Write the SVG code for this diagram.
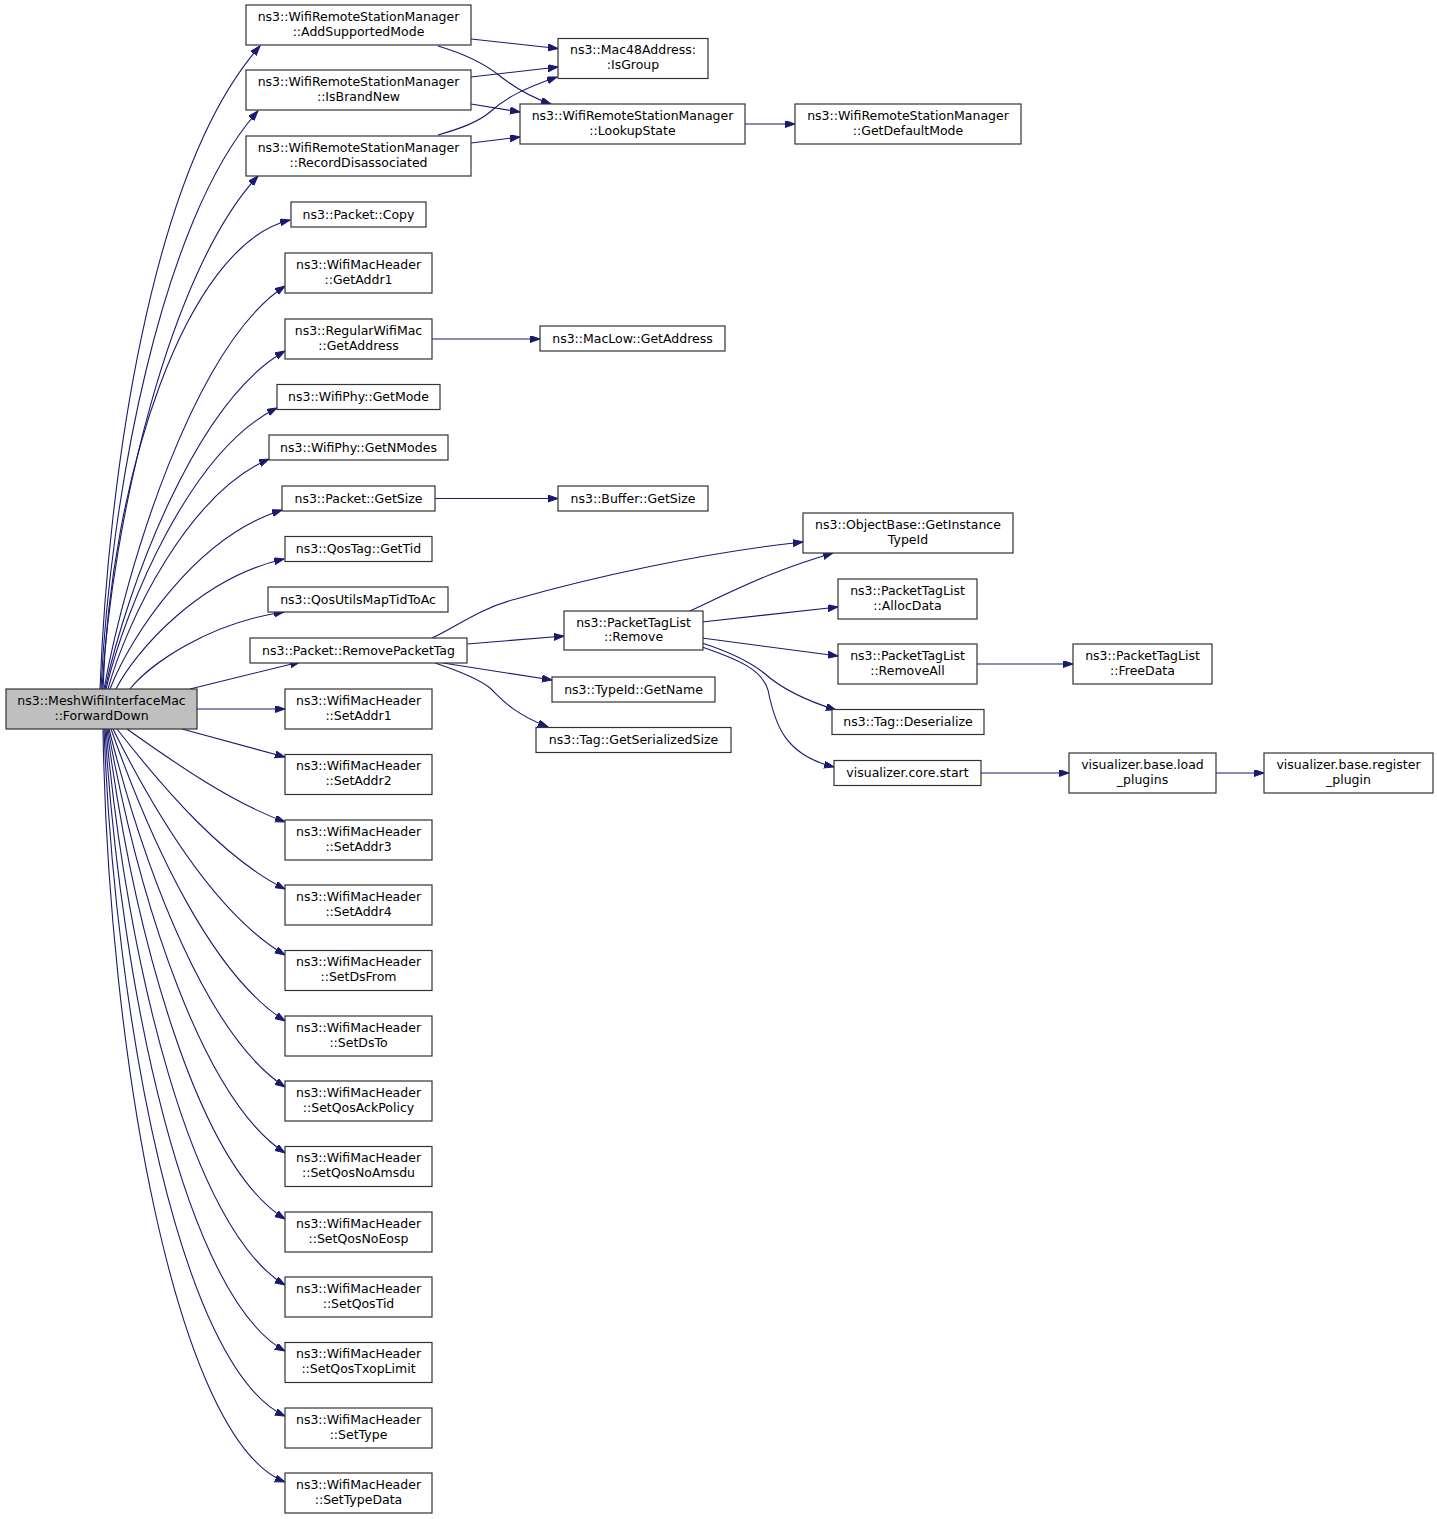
<svg xmlns="http://www.w3.org/2000/svg" width="1437" height="1519" viewBox="0 0 1437 1519">
<style>
.n rect{fill:#fff;stroke:#333;stroke-width:1.2}
.src rect{fill:#bfbfbf}
text{font-family:"DejaVu Sans","Liberation Sans",sans-serif;font-size:12.5px;fill:#000;text-anchor:middle}
.e path{fill:none;stroke:#191970;stroke-width:1.1;marker-end:url(#arr)}
</style>
<defs>
<marker id="arr" markerUnits="userSpaceOnUse" markerWidth="12" markerHeight="9" refX="10" refY="3.5" orient="auto">
<path d="M0,0 L10,3.5 L0,7 z" fill="#191970" stroke="#191970" stroke-width="1"/>
</marker>
</defs>
<rect width="1437" height="1519" fill="#fff"/>
<g class="e" id="edges">
<path d="M100,689 C108,480 150,170 260,46"/>
<path d="M101,689 C110,500 160,220 258,111"/>
<path d="M102,689 C112,520 170,270 258,176"/>
<path d="M103,689 C110,480 185,245 290,220"/>
<path d="M104,689 C126,568 194,346 285,286"/>
<path d="M105,689 C127,588 195,402 285,351"/>
<path d="M106,689 C126,605 191,450 277,408"/>
<path d="M108,689 C127,620 188,494 269,459"/>
<path d="M110,689 C131,635 196,537 282,510"/>
<path d="M116,689 C136,650 200,578 284,559"/>
<path d="M130,689 C148,666 207,623 284,612"/>
<path d="M190,689 L300,662"/>
<path d="M197,709 L285,709"/>
<path d="M182,729 L285,757"/>
<path d="M127,729 C179,766 233,803 285,822"/>
<path d="M117,729 C167,793 225,859 285,889"/>
<path d="M113,729 C159,821 219,916 285,955"/>
<path d="M111,729 C153,848 213,975 285,1021"/>
<path d="M109,729 C146,876 208,1036 285,1087"/>
<path d="M108,729 C140,905 203,1099 285,1153"/>
<path d="M107,729 C134,934 197,1164 285,1219"/>
<path d="M106,729 C127,963 192,1230 285,1285"/>
<path d="M105,729 C121,993 187,1298 285,1351"/>
<path d="M104,729 C115,1022 181,1368 285,1416"/>
<path d="M103,729 C108,1053 176,1440 285,1482"/>
<path d="M471,39 L558,48.5"/>
<path d="M438,46 C465,54 485,64 500,76 C515,88 530,97 551,104"/>
<path d="M471,77 L558,67"/>
<path d="M471,104 L520,112"/>
<path d="M438,135 C462,128 478,122 490,112 C505,98 525,88 557,77"/>
<path d="M471,143 L520,137"/>
<path d="M745,124 L795,124"/>
<path d="M432,339 L540,339"/>
<path d="M435,498.5 L558,498.5"/>
<path d="M432,638 C456,627 480,608 516,599 C590,578 700,553 803,542"/>
<path d="M467,644 L564,636"/>
<path d="M443,663 L552,680"/>
<path d="M435,663 C465,673 480,680 490,688 C500,697 510,712 548,727"/>
<path d="M690,611 C720,597 750,582 777,572 C795,565 813,559 833,553"/>
<path d="M702,622 L838,607"/>
<path d="M702,638 L838,656"/>
<path d="M702,643 C730,652 750,662 764,673 C775,683 795,697 836,710"/>
<path d="M702,647 C740,660 762,670 768,690 C775,725 785,755 834,767"/>
<path d="M977,664 L1073,664"/>
<path d="M981,773 L1069,773"/>
<path d="M1216,773 L1264,773"/>
</g>
<g class="n src" id="n_src"><rect x="6" y="689" width="191" height="40"/><text x="101.5" y="704.5">ns3::MeshWifiInterfaceMac</text><text x="101.5" y="719.5">::ForwardDown</text></g>
<g class="n" id="n_addsupported"><rect x="246" y="5" width="225" height="40"/><text x="358.5" y="20.5">ns3::WifiRemoteStationManager</text><text x="358.5" y="35.5">::AddSupportedMode</text></g>
<g class="n" id="n_isbrandnew"><rect x="246" y="70" width="225" height="40"/><text x="358.5" y="85.5">ns3::WifiRemoteStationManager</text><text x="358.5" y="100.5">::IsBrandNew</text></g>
<g class="n" id="n_recorddisassoc"><rect x="246" y="136" width="225" height="40"/><text x="358.5" y="151.5">ns3::WifiRemoteStationManager</text><text x="358.5" y="166.5">::RecordDisassociated</text></g>
<g class="n" id="n_copy"><rect x="291" y="202" width="135" height="25"/><text x="358.5" y="218.5">ns3::Packet::Copy</text></g>
<g class="n" id="n_getaddr1"><rect x="285" y="253" width="147" height="40"/><text x="358.5" y="268.5">ns3::WifiMacHeader</text><text x="358.5" y="283.5">::GetAddr1</text></g>
<g class="n" id="n_getaddress"><rect x="285" y="319" width="147" height="40"/><text x="358.5" y="334.5">ns3::RegularWifiMac</text><text x="358.5" y="349.5">::GetAddress</text></g>
<g class="n" id="n_getmode"><rect x="277" y="384.5" width="163" height="25"/><text x="358.5" y="401">ns3::WifiPhy::GetMode</text></g>
<g class="n" id="n_getnmodes"><rect x="269" y="435" width="179" height="25"/><text x="358.5" y="451.5">ns3::WifiPhy::GetNModes</text></g>
<g class="n" id="n_getsize"><rect x="282" y="486" width="153" height="25"/><text x="358.5" y="502.5">ns3::Packet::GetSize</text></g>
<g class="n" id="n_gettid"><rect x="285" y="536.5" width="147" height="25"/><text x="358.5" y="553">ns3::QosTag::GetTid</text></g>
<g class="n" id="n_maptid"><rect x="268" y="587" width="180" height="25"/><text x="358" y="603.5">ns3::QosUtilsMapTidToAc</text></g>
<g class="n" id="n_removepackettag"><rect x="250" y="638" width="217" height="25"/><text x="358.5" y="654.5">ns3::Packet::RemovePacketTag</text></g>
<g class="n" id="n_setaddr1"><rect x="285" y="689" width="147" height="40"/><text x="358.5" y="704.5">ns3::WifiMacHeader</text><text x="358.5" y="719.5">::SetAddr1</text></g>
<g class="n" id="n_setaddr2"><rect x="285" y="754.5" width="147" height="40"/><text x="358.5" y="770">ns3::WifiMacHeader</text><text x="358.5" y="785">::SetAddr2</text></g>
<g class="n" id="n_setaddr3"><rect x="285" y="820" width="147" height="40"/><text x="358.5" y="835.5">ns3::WifiMacHeader</text><text x="358.5" y="850.5">::SetAddr3</text></g>
<g class="n" id="n_setaddr4"><rect x="285" y="885" width="147" height="40"/><text x="358.5" y="900.5">ns3::WifiMacHeader</text><text x="358.5" y="915.5">::SetAddr4</text></g>
<g class="n" id="n_setdsfrom"><rect x="285" y="950.5" width="147" height="40"/><text x="358.5" y="966">ns3::WifiMacHeader</text><text x="358.5" y="981">::SetDsFrom</text></g>
<g class="n" id="n_setdsto"><rect x="285" y="1016" width="147" height="40"/><text x="358.5" y="1031.5">ns3::WifiMacHeader</text><text x="358.5" y="1046.5">::SetDsTo</text></g>
<g class="n" id="n_setqosackpolicy"><rect x="285" y="1081" width="147" height="40"/><text x="358.5" y="1096.5">ns3::WifiMacHeader</text><text x="358.5" y="1111.5">::SetQosAckPolicy</text></g>
<g class="n" id="n_setqosnoamsdu"><rect x="285" y="1146.5" width="147" height="40"/><text x="358.5" y="1162">ns3::WifiMacHeader</text><text x="358.5" y="1177">::SetQosNoAmsdu</text></g>
<g class="n" id="n_setqosnoeosp"><rect x="285" y="1212" width="147" height="40"/><text x="358.5" y="1227.5">ns3::WifiMacHeader</text><text x="358.5" y="1242.5">::SetQosNoEosp</text></g>
<g class="n" id="n_setqostid"><rect x="285" y="1277" width="147" height="40"/><text x="358.5" y="1292.5">ns3::WifiMacHeader</text><text x="358.5" y="1307.5">::SetQosTid</text></g>
<g class="n" id="n_setqostxoplimit"><rect x="285" y="1342.5" width="147" height="40"/><text x="358.5" y="1358">ns3::WifiMacHeader</text><text x="358.5" y="1373">::SetQosTxopLimit</text></g>
<g class="n" id="n_settype"><rect x="285" y="1408" width="147" height="40"/><text x="358.5" y="1423.5">ns3::WifiMacHeader</text><text x="358.5" y="1438.5">::SetType</text></g>
<g class="n" id="n_settypedata"><rect x="285" y="1473" width="147" height="40"/><text x="358.5" y="1488.5">ns3::WifiMacHeader</text><text x="358.5" y="1503.5">::SetTypeData</text></g>
<g class="n" id="n_isgroup"><rect x="558" y="38.5" width="150" height="40"/><text x="633" y="54">ns3::Mac48Address:</text><text x="633" y="69">:IsGroup</text></g>
<g class="n" id="n_lookupstate"><rect x="520" y="104" width="225" height="40"/><text x="632.5" y="119.5">ns3::WifiRemoteStationManager</text><text x="632.5" y="134.5">::LookupState</text></g>
<g class="n" id="n_maclowgetaddress"><rect x="540" y="326" width="185" height="25"/><text x="632.5" y="342.5">ns3::MacLow::GetAddress</text></g>
<g class="n" id="n_buffergetsize"><rect x="558" y="486" width="150" height="25"/><text x="633" y="502.5">ns3::Buffer::GetSize</text></g>
<g class="n" id="n_ptlremove"><rect x="564" y="611" width="139" height="39"/><text x="633.5" y="626.5">ns3::PacketTagList</text><text x="633.5" y="641">::Remove</text></g>
<g class="n" id="n_typeidgetname"><rect x="552" y="677" width="163" height="25"/><text x="633.5" y="693.5">ns3::TypeId::GetName</text></g>
<g class="n" id="n_getserializedsize"><rect x="536" y="727.5" width="195" height="25"/><text x="633.5" y="744">ns3::Tag::GetSerializedSize</text></g>
<g class="n" id="n_getdefaultmode"><rect x="795" y="104" width="226" height="40"/><text x="908" y="119.5">ns3::WifiRemoteStationManager</text><text x="908" y="134.5">::GetDefaultMode</text></g>
<g class="n" id="n_getinstancetypeid"><rect x="803" y="513" width="210" height="40"/><text x="908" y="528.5">ns3::ObjectBase::GetInstance</text><text x="908" y="543.5">TypeId</text></g>
<g class="n" id="n_allocdata"><rect x="838" y="579" width="139" height="40"/><text x="907.5" y="594.5">ns3::PacketTagList</text><text x="907.5" y="609.5">::AllocData</text></g>
<g class="n" id="n_removeall"><rect x="838" y="644" width="139" height="40"/><text x="907.5" y="659.5">ns3::PacketTagList</text><text x="907.5" y="674.5">::RemoveAll</text></g>
<g class="n" id="n_deserialize"><rect x="832" y="709.5" width="152" height="25"/><text x="908" y="726">ns3::Tag::Deserialize</text></g>
<g class="n" id="n_corestart"><rect x="834" y="760.5" width="147" height="25"/><text x="907.5" y="777">visualizer.core.start</text></g>
<g class="n" id="n_freedata"><rect x="1073" y="644" width="139" height="40"/><text x="1142.5" y="659.5">ns3::PacketTagList</text><text x="1142.5" y="674.5">::FreeData</text></g>
<g class="n" id="n_loadplugins"><rect x="1069" y="753" width="147" height="40"/><text x="1142.5" y="768.5">visualizer.base.load</text><text x="1142.5" y="783.5">_plugins</text></g>
<g class="n" id="n_registerplugin"><rect x="1264" y="753" width="169" height="40"/><text x="1348.5" y="768.5">visualizer.base.register</text><text x="1348.5" y="783.5">_plugin</text></g>
</svg>
